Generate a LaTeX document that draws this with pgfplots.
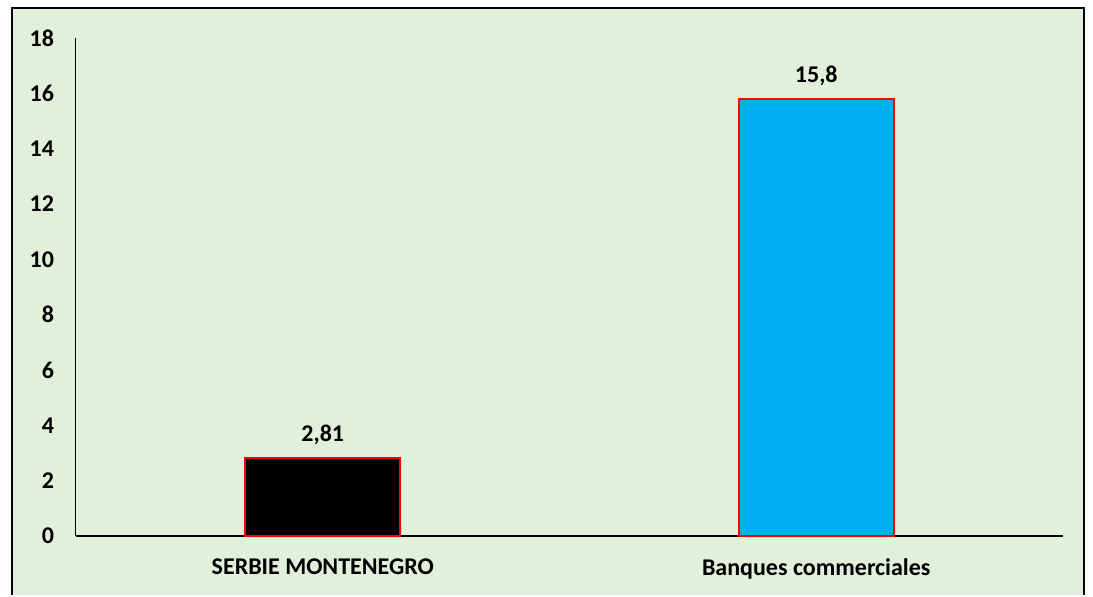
\documentclass[border=0pt]{standalone}
\usepackage{pgfplots}
\pgfplotsset{compat=1.18}
\usepackage{fontspec}
\setmainfont{Carlito}
\definecolor{bg}{HTML}{E2EFDA}
\definecolor{barcyan}{HTML}{00B0F0}
\begin{document}
\begin{tikzpicture}[x=0.5pt,y=0.5pt]
	% chart area with frame (1px = 0.5pt)
	\fill[white] (0,0) rectangle (1093,595);
	\fill[bg] (12,0) rectangle (1084,587);
	\draw[line width=1pt] (12,0) -- (12,587) -- (1084,587) -- (1084,0);
	\begin{axis}[
		at={(38pt,29.5pt)}, anchor=south west,
		scale only axis,
		width=493.5pt, height=249pt,
		xmin=-0.5, xmax=1.5,
		ymin=0, ymax=18,
		ytick={0,2,...,18},
		xtick={0,1},
		xticklabels={SERBIE MONTENEGRO, Banques commerciales},
		axis x line=bottom, axis y line=left,
		axis line style={-},
		x axis line style={line width=1pt},
		y axis line style={line width=0.5pt},
		major tick length=0pt,
		ticklabel style={font=\bfseries\fontsize{12}{14}\selectfont},
		/pgf/number format/assume math mode=true,
		yticklabel style={xshift=-7.5pt},
		xticklabel style={yshift=-8pt},
		ybar, bar width=77.5pt, bar shift=0pt,
		nodes near coords,
		nodes near coords style={font=\bfseries\fontsize{12}{14}\selectfont,
			/pgf/number format/use comma, yshift=3pt, black},
	]
	\addplot[fill=black, draw=red, line width=0.8pt] coordinates {(0,2.81)};
	\addplot[fill=barcyan, draw=red, line width=0.8pt] coordinates {(1,15.8)};
	\end{axis}
\end{tikzpicture}
\end{document}
